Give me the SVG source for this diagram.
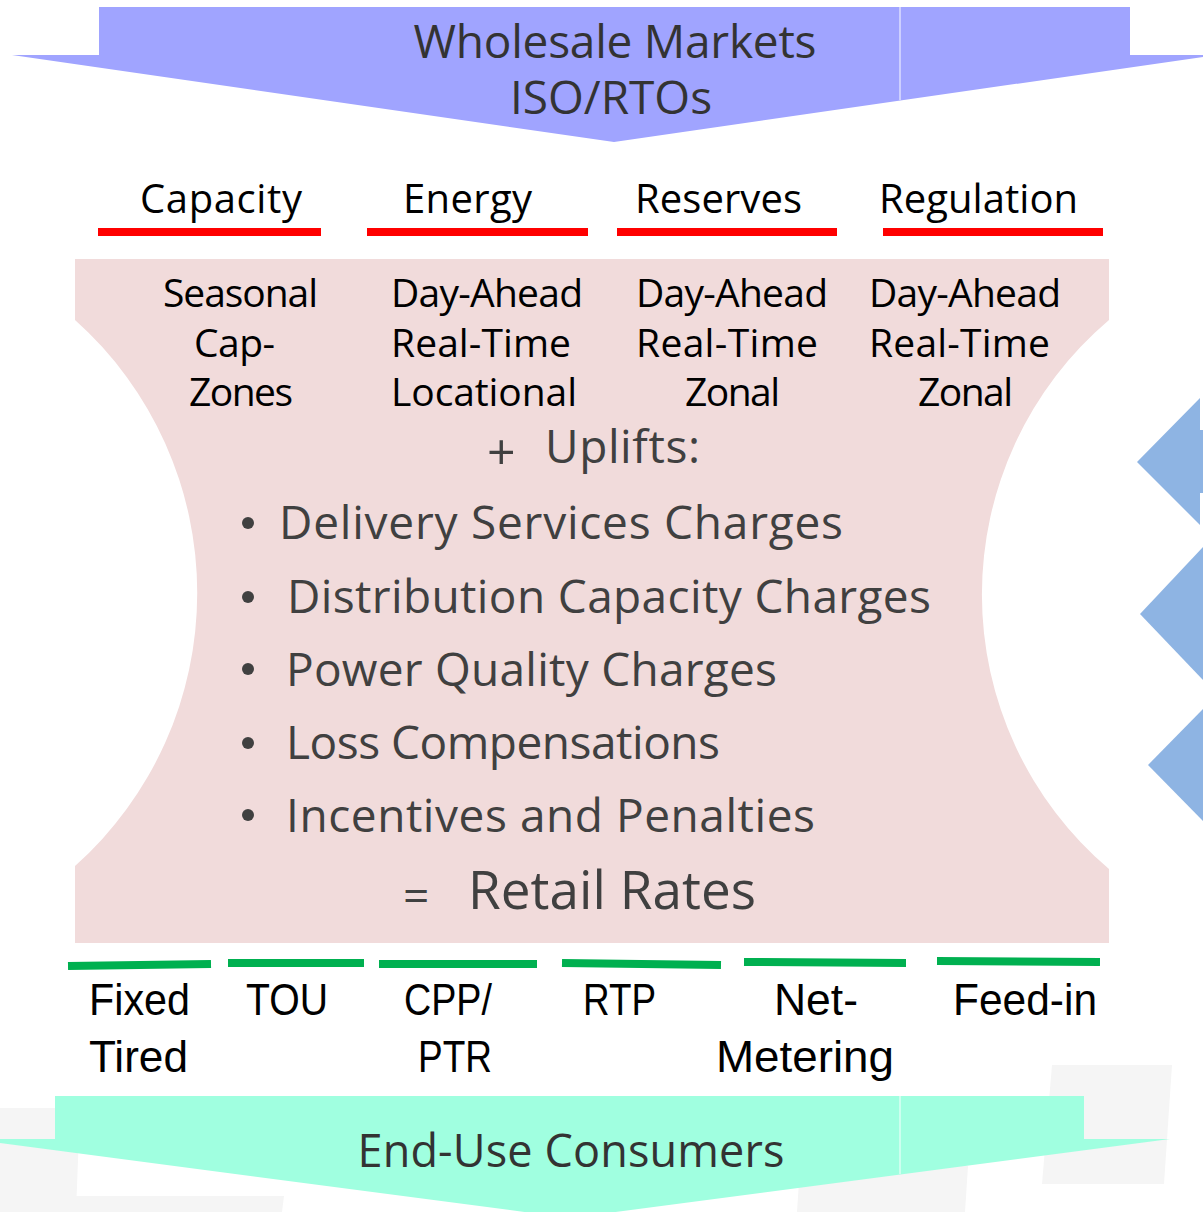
<svg xmlns="http://www.w3.org/2000/svg" width="1203" height="1212" viewBox="0 0 1203 1212">
  <style>
    .os { font-family: "Open Sans", "Liberation Sans", sans-serif; }
    .ls { font-family: "Liberation Sans", Arial, sans-serif; }
    .hdr { font-size: 40px; fill: #000; }
    .col { font-size: 39px; fill: #000; }
    .blt { font-size: 46px; fill: #404040; }
    .bot { font-size: 44px; fill: #000; }
    .red { stroke: #FF0000; stroke-width: 8; }
    .grn { stroke: #00B050; stroke-width: 8; }
    .dot { fill: #404040; }
    .ghost { fill: #F5F5F5; }
    .blue { fill: #8EB4E3; }
    .seam { stroke: #FFFFFF; stroke-width: 1.2; opacity: 0.8; }
  </style>
  <rect width="1203" height="1212" fill="#FFFFFF"/>

  <g id="background">
    <polygon class="ghost" points="0,1108 80,1108 76,1212 0,1212"/>
    <polygon class="ghost" points="52,1196 284,1196 282,1212 50,1212"/>
    <polygon class="ghost" points="800,1166 968,1166 965,1212 797,1212"/>
    <polygon class="ghost" points="1052,1065 1172,1065 1164,1184 1042,1184"/>
  </g>

  <g id="wholesale">
    <polygon points="99,7 1130,7 1130,55 1216,55 614,142 12,55 99,55" fill="#A0A4FF"/>
    <line class="seam" x1="900" y1="7" x2="900" y2="100"/>
    <text class="os" x="615" y="58" font-size="46" fill="#333333" text-anchor="middle" textLength="403">Wholesale Markets</text>
    <text class="os" x="611" y="114" font-size="46" fill="#333333" text-anchor="middle">ISO/RTOs</text>
  </g>

  <g id="retail-box">
    <path d="M75,259 H1109 V320 A360,360 0 0 0 1109,869 V943 H75 V866 A366,366 0 0 0 75,320 Z" fill="#F1DBDB"/>
  </g>

  <g id="capacity">
    <text class="os hdr" x="140" y="213" textLength="162">Capacity</text>
    <line class="red" x1="98" y1="232" x2="321" y2="232"/>
    <text class="os col" x="163" y="307" textLength="155">Seasonal</text>
    <text class="os col" x="194" y="357" textLength="81">Cap-</text>
    <text class="os col" x="189" y="406" textLength="104">Zones</text>
  </g>

  <g id="energy">
    <text class="os hdr" x="403" y="213" textLength="129">Energy</text>
    <line class="red" x1="367" y1="232" x2="588" y2="232"/>
    <text class="os col" x="391" y="307" textLength="192">Day-Ahead</text>
    <text class="os col" x="391" y="357" textLength="180">Real-Time</text>
    <text class="os col" x="391" y="406" textLength="186">Locational</text>
  </g>

  <g id="reserves">
    <text class="os hdr" x="635" y="213" textLength="167">Reserves</text>
    <line class="red" x1="617" y1="232" x2="837" y2="232"/>
    <text class="os col" x="636" y="307" textLength="192">Day-Ahead</text>
    <text class="os col" x="636" y="357" textLength="182">Real-Time</text>
    <text class="os col" x="685" y="406" textLength="95">Zonal</text>
  </g>

  <g id="regulation">
    <text class="os hdr" x="879" y="213" textLength="199">Regulation</text>
    <line class="red" x1="883" y1="232" x2="1103" y2="232"/>
    <text class="os col" x="869" y="307" textLength="192">Day-Ahead</text>
    <text class="os col" x="869" y="357" textLength="181">Real-Time</text>
    <text class="os col" x="918" y="406" textLength="95">Zonal</text>
  </g>

  <g id="uplifts">
    <text class="os" x="487" y="470" font-size="50" fill="#404040">+</text>
    <text class="os blt" x="545" y="463" textLength="155">Uplifts:</text>
    <circle class="dot" cx="248" cy="523" r="6"/>
    <text class="os blt" x="279" y="539" textLength="564">Delivery Services Charges</text>
    <circle class="dot" cx="248" cy="597" r="6"/>
    <text class="os blt" x="287" y="613" textLength="644">Distribution Capacity Charges</text>
    <circle class="dot" cx="248" cy="669" r="6"/>
    <text class="os blt" x="286" y="686" textLength="491">Power Quality Charges</text>
    <circle class="dot" cx="248" cy="743" r="6"/>
    <text class="os blt" x="286" y="759" textLength="434">Loss Compensations</text>
    <circle class="dot" cx="248" cy="815" r="6"/>
    <text class="os blt" x="286" y="832" textLength="529">Incentives and Penalties</text>
    <text class="os" x="403" y="912" font-size="46" fill="#404040">=</text>
    <text class="os" x="468" y="909" font-size="53" fill="#404040" textLength="288">Retail Rates</text>
  </g>

  <g id="tariffs">
    <line class="grn" x1="68" y1="966" x2="211" y2="964"/>
    <line class="grn" x1="228" y1="963" x2="364" y2="963"/>
    <line class="grn" x1="379" y1="964" x2="537" y2="964"/>
    <line class="grn" x1="562" y1="963" x2="721" y2="965"/>
    <line class="grn" x1="744" y1="962" x2="906" y2="963"/>
    <line class="grn" x1="937" y1="961" x2="1100" y2="962"/>
    <text class="ls bot" x="89" y="1015" textLength="101" lengthAdjust="spacingAndGlyphs">Fixed</text>
    <text class="ls bot" x="89" y="1072" textLength="99" lengthAdjust="spacingAndGlyphs">Tired</text>
    <text class="ls bot" x="246" y="1015" textLength="82" lengthAdjust="spacingAndGlyphs">TOU</text>
    <text class="ls bot" x="404" y="1015" textLength="88" lengthAdjust="spacingAndGlyphs">CPP/</text>
    <text class="ls bot" x="418" y="1072" textLength="74" lengthAdjust="spacingAndGlyphs">PTR</text>
    <text class="ls bot" x="583" y="1015" textLength="73" lengthAdjust="spacingAndGlyphs">RTP</text>
    <text class="ls bot" x="774" y="1015" textLength="84" lengthAdjust="spacingAndGlyphs">Net-</text>
    <text class="ls bot" x="716" y="1072" textLength="178" lengthAdjust="spacingAndGlyphs">Metering</text>
    <text class="ls bot" x="953" y="1015" textLength="144" lengthAdjust="spacingAndGlyphs">Feed-in</text>
  </g>

  <g id="connectors">
    <polygon class="blue" points="1203,430 1200,430 1200,398 1137,462 1200,525 1200,493 1203,493"/>
    <polygon class="blue" points="1203,547 1140,614 1203,680"/>
    <polygon class="blue" points="1203,709 1148,765 1203,821"/>
  </g>

  <g id="consumers">
    <polygon points="55,1096 1084,1096 1084,1139 1170,1139 570,1218 -30,1139 55,1139" fill="#A0FFE0"/>
    <line class="seam" x1="900" y1="1096" x2="900" y2="1174"/>
    <text class="os" x="571" y="1167" font-size="45" fill="#333333" text-anchor="middle" textLength="427">End-Use Consumers</text>
  </g>
</svg>
